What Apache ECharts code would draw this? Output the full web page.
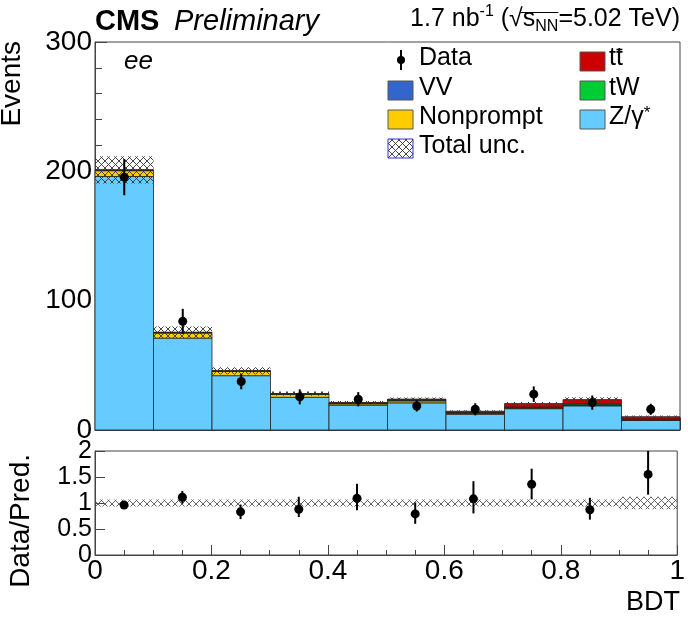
<!DOCTYPE html>
<html><head><meta charset="utf-8">
<script src="https://cdn.jsdelivr.net/npm/echarts@6/dist/echarts.min.js"></script>
<style>html,body{margin:0;padding:0;background:#fff}#c{width:688px;height:617px}</style>
</head><body><div id="c"></div>
<script>
// ---- data ----
const binLow  = [0.0,0.1,0.2,0.3,0.4,0.5,0.6,0.7,0.8,0.9];
const binHigh = [0.1,0.2,0.3,0.4,0.5,0.6,0.7,0.8,0.9,1.0];
const zgamma    = [196, 71, 42, 25.3, 19.3, 21.0, 12.2, 16.5, 18.7, 7.5];
const nonprompt = [4.5, 4.0, 3.3, 2.2, 1.0, 1.5, 0.5, 0.5, 0.5, 0.3];
const vv        = [0.3, 0.3, 0.2, 0.2, 0.3, 0.3, 0.3, 0.3, 0.3, 0.2];
const tw        = [0.1, 0.1, 0.1, 0.1, 0.2, 0.3, 0.5, 0.5, 0.8, 0.5];
const ttbar     = [0.2, 0.2, 0.2, 0.3, 0.5, 0.8, 1.0, 2.6, 3.2, 1.8];
const totalUnc  = [10.5, 4.5, 2.8, 1.6, 1.2, 1.3, 0.8, 1.2, 1.8, 0.9];
const dataVal   = [195.5, 84, 37.5, 25.6, 23.8, 18.6, 16, 27.7, 21.2, 16];
const dataErr   = [14, 9.7, 6, 5.8, 5.5, 4.3, 4.7, 6, 5.5, 4.3];
const ratioVal  = [0.96, 1.11, 0.83, 0.88, 1.09, 0.79, 1.08, 1.36, 0.87, 1.55];
const ratioLo   = [0.90, 0.99, 0.69, 0.73, 0.86, 0.60, 0.80, 1.07, 0.68, 1.16];
const ratioHi   = [1.02, 1.23, 0.97, 1.12, 1.37, 1.01, 1.42, 1.66, 1.10, 2.05];
const ratioUnc  = [0.065,0.065,0.065,0.065,0.065,0.065,0.065,0.065,0.065,0.12];
const yTicksTop = [0, 100, 200, 300];
const yTicksRatio = [0, 0.5, 1, 1.5, 2];
const xTicks = [0, 0.2, 0.4, 0.6, 0.8, 1];

const colors = {z:'#66ccff', np:'#ffcc00', vv:'#3366cc', tw:'#00cc33', tt:'#cc0000'};
const FONT = '"Liberation Sans", Arial, Helvetica, sans-serif';

function hatchCanvas(color, bg){
  const s = 7;
  const c = document.createElement('canvas'); c.width = s; c.height = s;
  const g = c.getContext('2d');
  if (bg) { g.fillStyle = bg; g.fillRect(0,0,s,s); }
  g.strokeStyle = color; g.lineWidth = 0.9;
  g.beginPath(); g.moveTo(0,0); g.lineTo(s,s); g.moveTo(s,0); g.lineTo(0,s); g.stroke();
  return c;
}
const hatchBlack = {image: hatchCanvas('#333'), repeat: 'repeat'};
const hatchGray  = {image: hatchCanvas('#555'), repeat: 'repeat'};

// build stacked histogram segments
const stackOrder = [
  {name:'Z/γ*', vals:zgamma, color:colors.z},
  {name:'Nonprompt', vals:nonprompt, color:colors.np},
  {name:'VV', vals:vv, color:colors.vv},
  {name:'tW', vals:tw, color:colors.tw},
  {name:'tt̄', vals:ttbar, color:colors.tt}
];
const cum = binLow.map(() => 0);
const stackSeries = stackOrder.map(comp => {
  const d = binLow.map((lo, i) => {
    const y0 = cum[i], y1 = cum[i] + comp.vals[i];
    cum[i] = y1;
    return [lo, binHigh[i], y0, y1];
  });
  return {name: comp.name, color: comp.color, data: d};
});
const totals = cum.slice();

function clipR(rect, cs){
  return echarts.graphic.clipRectByRect(rect, {x:cs.x, y:cs.y, width:cs.width, height:cs.height});
}
function rectRender(fill, stroke, lw){
  return function(params, api){
    const p0 = api.coord([api.value(0), api.value(2)]);
    const p1 = api.coord([api.value(1), api.value(3)]);
    const shape = clipR({x:p0[0], y:p1[1], width:p1[0]-p0[0], height:p0[1]-p1[1]}, params.coordSys);
    if (!shape) return null;
    return {type:'rect', shape, style:{fill, stroke: stroke || null, lineWidth: lw || 0}};
  };
}
function pointRender(params, api){
  const x = api.value(0), y = api.value(1), lo = api.value(2), hi = api.value(3);
  const cs = params.coordSys;
  const c = api.coord([x, y]);
  let a = api.coord([x, lo]), b = api.coord([x, hi]);
  const top = cs.y, bot = cs.y + cs.height;
  const ya = Math.min(Math.max(a[1], top), bot), yb = Math.min(Math.max(b[1], top), bot);
  return {type:'group', children:[
    {type:'line', shape:{x1:c[0], y1:ya, x2:c[0], y2:yb}, style:{stroke:'#000', lineWidth:2}},
    {type:'circle', shape:{cx:c[0], cy:c[1], r:4.5}, style:{fill:'#000'}}
  ]};
}

const series = [];
stackSeries.forEach(s => {
  series.push({type:'custom', name:s.name, xAxisIndex:0, yAxisIndex:0, z:2,
    renderItem: rectRender(s.color, '#222', 0.8), encode:{x:[0,1], y:[2,3]}, data:s.data, animation:false});
});
series.push({type:'custom', name:'Total unc.', xAxisIndex:0, yAxisIndex:0, z:3,
  renderItem: rectRender(hatchBlack, null, 0), encode:{x:[0,1], y:[2,3]},
  data: binLow.map((lo,i) => [lo, binHigh[i], totals[i]-totalUnc[i], totals[i]+totalUnc[i]]), animation:false});
series.push({type:'custom', name:'Data', xAxisIndex:0, yAxisIndex:0, z:4,
  renderItem: pointRender, encode:{x:0, y:[1,2,3]},
  data: binLow.map((lo,i) => [(lo+binHigh[i])/2, dataVal[i], dataVal[i]-dataErr[i], dataVal[i]+dataErr[i]]), animation:false});
// ratio panel
series.push({type:'custom', name:'Ratio unc.', xAxisIndex:1, yAxisIndex:1, z:3,
  renderItem: rectRender(hatchGray, null, 0), encode:{x:[0,1], y:[2,3]},
  data: binLow.map((lo,i) => [lo, binHigh[i], 1-ratioUnc[i], 1+ratioUnc[i]]), animation:false});
series.push({type:'custom', name:'Ratio', xAxisIndex:1, yAxisIndex:1, z:4,
  renderItem: pointRender, encode:{x:0, y:[1,2,3]},
  data: binLow.map((lo,i) => [(lo+binHigh[i])/2, ratioVal[i], ratioLo[i], ratioHi[i]]), animation:false});

// lumi label layout (right aligned at x=680)
const mc = document.createElement('canvas').getContext('2d');
function tw_(txt, size){ mc.font = size + 'px ' + FONT; return mc.measureText(txt).width; }
const LS = 25, SS = 16;
const lumiParts = [
  {t:'1.7 nb', s:LS, cy:19},
  {t:'-1', s:SS, cy:12},
  {t:' (√', s:LS, cy:19},
  {t:'s', s:LS, cy:19, ov:true},
  {t:'NN', s:SS, cy:27, ov:true},
  {t:'=5.02 TeV)', s:LS, cy:19}
];
const lumiW = lumiParts.reduce((a,p) => a + tw_(p.t, p.s), 0);
let lx = 680 - lumiW;
const lumiGraphics = [];
let ovStart = null, ovEnd = null;
lumiParts.forEach(p => {
  lumiGraphics.push({type:'text', x:lx, y:p.cy, style:{text:p.t, font:p.s+'px '+FONT, fill:'#000', align:'left', verticalAlign:'middle'}});
  const w = tw_(p.t, p.s);
  if (p.ov) { if (ovStart === null) ovStart = lx; ovEnd = lx + w; }
  lx += w;
});
lumiGraphics.push({type:'line', shape:{x1:ovStart-2, y1:12.5, x2:ovEnd, y2:12.5}, style:{stroke:'#000', lineWidth:1}});

// tt-bar legend text with macron
const ttX = 609;
const ttW = tw_('t', 25);

const axisLine = {show:true, lineStyle:{color:'#444', width:1}};
const chart = echarts.init(document.getElementById('c'), null, {renderer:'canvas'});
chart.setOption({
  backgroundColor:'#fff',
  animation:false,
  grid:[
    {left:95, right:8, top:42, height:388, show:true, borderColor:'#444', borderWidth:1, backgroundColor:'transparent'},
    {left:95, right:8, top:451, height:104, show:true, borderColor:'#444', borderWidth:1, backgroundColor:'transparent'}
  ],
  xAxis:[
    {type:'value', gridIndex:0, min:0, max:1, interval:0.1, axisLine,
     axisTick:{show:true, inside:true, length:12, lineStyle:{color:'#444'}},
     minorTick:{show:true, splitNumber:5, length:6, lineStyle:{color:'#444'}},
     axisLabel:{show:false}, splitLine:{show:false}},
    {type:'value', gridIndex:1, min:0, max:1, interval:0.2, axisLine,
     axisTick:{show:true, inside:true, length:10, lineStyle:{color:'#444'}},
     minorTick:{show:true, splitNumber:4, length:5, lineStyle:{color:'#444'}},
     axisLabel:{show:true, fontSize:28, color:'#000', fontFamily:FONT, margin:2, showMinLabel:true, showMaxLabel:true, hideOverlap:false,
       formatter: v => { const t = xTicks.find(k => Math.abs(k-v)<1e-6); return t===undefined ? '' : String(t); }},
     splitLine:{show:false}}
  ],
  yAxis:[
    {type:'value', gridIndex:0, min:0, max:300, interval:100, axisLine,
     axisTick:{show:true, inside:true, length:12, lineStyle:{color:'#444'}},
     minorTick:{show:true, splitNumber:5, length:7, lineStyle:{color:'#444'}},
     axisLabel:{show:true, fontSize:28, color:'#000', fontFamily:FONT, margin:3, showMinLabel:true, showMaxLabel:true, hideOverlap:false,
       formatter: v => { const t = yTicksTop.find(k => Math.abs(k-v)<1e-6); return t===undefined ? '' : String(t); }},
     splitLine:{show:false}},
    {type:'value', gridIndex:1, min:0, max:2, interval:0.5, axisLine,
     axisTick:{show:true, inside:true, length:10, lineStyle:{color:'#444'}},
     minorTick:{show:false},
     axisLabel:{show:true, fontSize:25, lineHeight:20, color:'#000', fontFamily:FONT, margin:3, hideOverlap:false,
       formatter: v => { const t = yTicksRatio.find(k => Math.abs(k-v)<1e-6); return t===undefined ? '' : String(t); }},
     splitLine:{show:false}}
  ],
  series,
  graphic:[
    {type:'text', left:95, top:7, style:{text:'CMS', font:'bold 29px '+FONT, fill:'#000'}},
    {type:'text', left:174, top:7, style:{text:'Preliminary', font:'italic 29px '+FONT, fill:'#000'}},
    ...lumiGraphics,
    {type:'text', left:124, top:49, style:{text:'ee', font:'italic 26px '+FONT, fill:'#000'}},
    {type:'text', x:12, y:41, rotation:Math.PI/2, style:{text:'Events', font:'28px '+FONT, fill:'#000', align:'right', verticalAlign:'middle'}},
    {type:'text', x:21, y:454, rotation:Math.PI/2, style:{text:'Data/Pred.', font:'28px '+FONT, fill:'#000', align:'right', verticalAlign:'middle'}},
    {type:'text', right:8, top:589, style:{text:'BDT', font:'27px '+FONT, fill:'#000'}},
    // legend
    {type:'line', shape:{x1:401, y1:50, x2:401, y2:70}, style:{stroke:'#000', lineWidth:2}},
    {type:'circle', shape:{cx:401, cy:60, r:4}, style:{fill:'#000'}},
    {type:'text', left:419, top:46, style:{text:'Data', font:'25px '+FONT, fill:'#000'}},
    {type:'rect', shape:{x:388, y:81, width:25, height:19}, style:{fill:colors.vv, stroke:'#555', lineWidth:1}},
    {type:'text', left:419, top:76, style:{text:'VV', font:'25px '+FONT, fill:'#000'}},
    {type:'rect', shape:{x:388, y:110, width:25, height:19}, style:{fill:colors.np, stroke:'#555', lineWidth:1}},
    {type:'text', left:419, top:105, style:{text:'Nonprompt', font:'25px '+FONT, fill:'#000'}},
    {type:'rect', shape:{x:388, y:139, width:25, height:19}, style:{fill:hatchBlack, stroke:'#33c', lineWidth:1}},
    {type:'text', left:419, top:134, style:{text:'Total unc.', font:'25px '+FONT, fill:'#000'}},
    {type:'rect', shape:{x:580, y:52, width:25, height:19}, style:{fill:colors.tt, stroke:'#555', lineWidth:1}},
    {type:'text', left:ttX, top:46, style:{text:'tt', font:'25px '+FONT, fill:'#000'}},
    {type:'line', shape:{x1:ttX+ttW+0.5, y1:49.5, x2:ttX+2*ttW-0.5, y2:49.5}, style:{stroke:'#000', lineWidth:1.5}},
    {type:'rect', shape:{x:580, y:81, width:25, height:19}, style:{fill:colors.tw, stroke:'#555', lineWidth:1}},
    {type:'text', left:609, top:76, style:{text:'tW', font:'25px '+FONT, fill:'#000'}},
    {type:'rect', shape:{x:580, y:110, width:25, height:19}, style:{fill:colors.z, stroke:'#555', lineWidth:1}},
    {type:'text', left:609, top:105, style:{text:'{a|Z/γ}{s|*}', rich:{a:{font:'25px '+FONT, fill:'#000'}, s:{font:'17px '+FONT, fill:'#000', verticalAlign:'top'}}}}
  ]
});
</script></body></html>
